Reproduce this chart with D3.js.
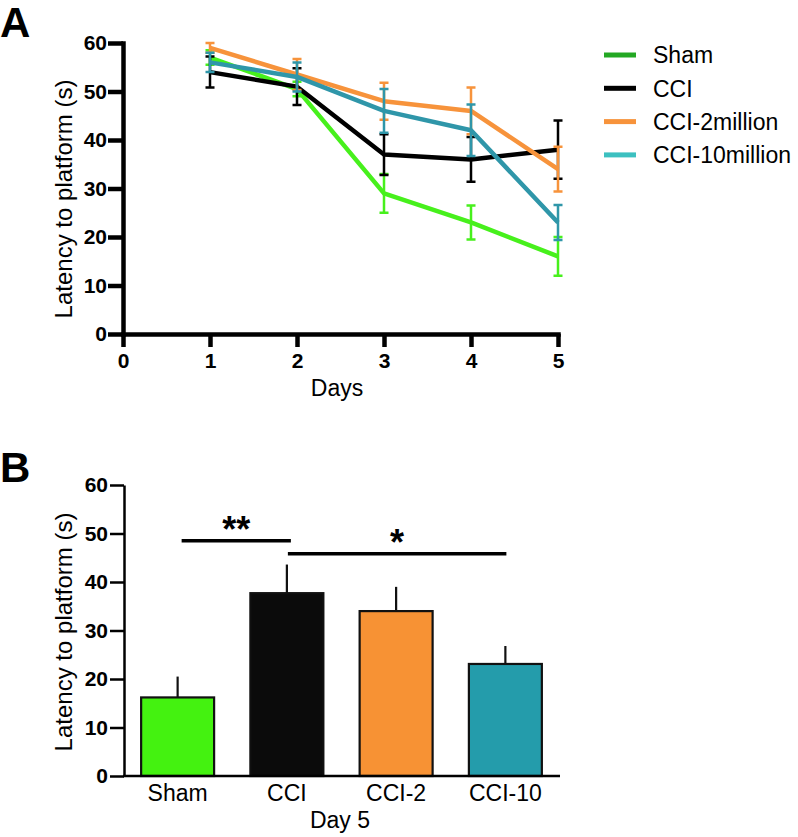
<!DOCTYPE html>
<html>
<head>
<meta charset="utf-8">
<script src="https://cdn.jsdelivr.net/npm/d3@7"></script>
<style>
  body { margin: 0; background: #fff; }
  svg { font-family: "Liberation Sans", Arial, sans-serif; }
</style>
</head>
<body>
<svg id="svg1" width="798" height="837"></svg>
<script>
// panel A data: latency per day, mean and SEM
var days = [1, 2, 3, 4, 5];
var groups = ['Sham', 'CCI', 'CCI-2million', 'CCI-10million'];
var shamMean = [57, 50.5, 29, 23, 16];
var shamErr = [1.5, 1.5, 4, 3.5, 4];
var cciMean = [54, 51, 37, 36, 38];
var cciErr = [3.2, 3.8, 4.2, 4.6, 6];
var cci2Mean = [59, 53.5, 48, 46, 34];
var cci2Err = [1, 3.2, 3.8, 4.8, 4.6];
var cci10Mean = [56, 53, 46, 42, 23];
var cci10Err = [2, 3, 4.5, 5.3, 3.6];
var xTicks = [0, 1, 2, 3, 4, 5];
var yTicks = [0, 10, 20, 30, 40, 50, 60];

// panel B data: day 5 only
var barNames = ['Sham', 'CCI', 'CCI-2', 'CCI-10'];
var barMean = [16.2, 37.7, 34, 23.1];
var barErr = [4.3, 5.9, 5, 3.7];
var sigFrom = ['Sham', 'CCI'];
var sigTo = ['CCI', 'CCI-10'];
var sigLevel = [48.5, 45.8];
var sigLabel = ['**', '*'];

var lineColors = ['#47f01c', '#000000', '#f7933b', '#2f96a9'];
var legendColors = ['#23a823', '#000000', '#f7933b', '#3cc0c0'];
var barColors = ['#44f210', '#0b0b0b', '#f79234', '#249cab'];

var svg = d3.select('#svg1');

//----- panel A -----
var xA = d3.scaleLinear().domain([0, 5]).range([123, 558]);
var yA = d3.scaleLinear().domain([0, 60]).range([334, 43]);

var gA = svg.append('g');

var axA = gA.append('g')
    .attr('transform', 'translate(0,334)')
    .call(d3.axisBottom(xA).tickValues(xTicks).tickFormat(d3.format('d')).tickSize(13).tickSizeOuter(0).tickPadding(6));
var ayA = gA.append('g')
    .attr('transform', 'translate(123,0)')
    .call(d3.axisLeft(yA).tickValues(yTicks).tickSize(15).tickSizeOuter(0).tickPadding(1));

[axA, ayA].forEach(function(a){
    a.select('.domain').attr('stroke-width', 4.5).attr('stroke-linecap', 'square');
    a.selectAll('.tick line').attr('stroke-width', 4.5);
    a.selectAll('.tick text').attr('font-size', 21).attr('font-weight', 'bold').attr('fill', '#000');
});

gA.append('text')
    .attr('transform', 'translate(72,199) rotate(-90)')
    .attr('text-anchor', 'middle')
    .attr('font-size', 24)
    .text('Latency to platform (s)');

gA.append('text')
    .attr('x', 337).attr('y', 396)
    .attr('text-anchor', 'middle')
    .attr('font-size', 23)
    .text('Days');

svg.append('text')
    .attr('x', 0).attr('y', 37)
    .attr('font-size', 42).attr('font-weight', 'bold')
    .text('A');

var seriesData = [
    {name: groups[0], mean: shamMean, err: shamErr},
    {name: groups[1], mean: cciMean, err: cciErr},
    {name: groups[2], mean: cci2Mean, err: cci2Err},
    {name: groups[3], mean: cci10Mean, err: cci10Err}
];

var line = d3.line()
    .x(function(d, i){ return xA(days[i]); })
    .y(function(d){ return yA(d); });

var series = gA.selectAll('.series')
    .data(seriesData)
    .enter()
    .append('g')
    .attr('class', 'series');

// error bars with caps, then the line on top
series.each(function(s, si){
    var g = d3.select(this);
    var pts = s.mean.map(function(m, i){ return {x: days[i], lo: m - s.err[i], hi: m + s.err[i]}; });
    g.selectAll('.eb')
        .data(pts)
        .enter()
        .append('path')
        .attr('d', function(d){
            var x = xA(d.x), y0 = yA(d.lo), y1 = yA(d.hi);
            return 'M' + x + ',' + y0 + 'V' + y1 +
                'M' + (x - 4.5) + ',' + y0 + 'H' + (x + 4.5) +
                'M' + (x - 4.5) + ',' + y1 + 'H' + (x + 4.5);
        })
        .attr('fill', 'none')
        .attr('stroke', lineColors[si])
        .attr('stroke-width', 2.5);
    g.append('path')
        .attr('d', line(s.mean))
        .attr('fill', 'none')
        .attr('stroke', lineColors[si])
        .attr('stroke-width', 4.5)
        .attr('stroke-linejoin', 'round');
});

// legend
var legend = gA.selectAll('.leg')
    .data(groups)
    .enter()
    .append('g')
    .attr('class', 'leg')
    .attr('transform', function(d, i){ return 'translate(604,' + (55 + i * 33.3) + ')'; });
legend.append('line')
    .attr('x1', 0).attr('x2', 32)
    .attr('stroke', function(d, i){ return legendColors[i]; })
    .attr('stroke-width', 5);
legend.append('text')
    .attr('x', 49).attr('dy', '0.36em')
    .attr('font-size', 23)
    .text(function(d){ return d; });

//----- panel B -----
var xB = d3.scaleBand().domain(barNames).range([123, 560]).paddingInner(0.332).paddingOuter(0.166);
var yB = d3.scaleLinear().domain([0, 60]).range([776, 485]);
var mid = function(d){ return xB(d) + xB.bandwidth() / 2; };

var gB = svg.append('g');

// error bars (upper only) behind bars
gB.selectAll('.berr')
    .data(barNames)
    .enter()
    .append('line')
    .attr('x1', mid)
    .attr('x2', mid)
    .attr('y1', function(d, i){ return yB(barMean[i]); })
    .attr('y2', function(d, i){ return yB(barMean[i] + barErr[i]); })
    .attr('stroke', '#111')
    .attr('stroke-width', 2.2);

gB.selectAll('.bar')
    .data(barNames)
    .enter()
    .append('rect')
    .attr('x', function(d){ return xB(d); })
    .attr('y', function(d, i){ return yB(barMean[i]); })
    .attr('width', xB.bandwidth())
    .attr('height', function(d, i){ return yB(0) - yB(barMean[i]); })
    .attr('fill', function(d, i){ return barColors[i]; })
    .attr('stroke', '#111')
    .attr('stroke-width', 2.2);

var axB = gB.append('g')
    .attr('transform', 'translate(0,776)')
    .call(d3.axisBottom(xB).tickSize(0).tickSizeOuter(0).tickPadding(9));
axB.select('.domain').attr('d', 'M123,0H560');
var ayB = gB.append('g')
    .attr('transform', 'translate(124,0)')
    .call(d3.axisLeft(yB).tickValues(yTicks).tickSize(14).tickSizeOuter(0).tickPadding(2));

axB.select('.domain').attr('stroke-width', 2.5);
axB.selectAll('.tick text').attr('font-size', 23).attr('fill', '#000');
ayB.select('.domain').attr('stroke-width', 2.5);
ayB.selectAll('.tick line').attr('stroke-width', 2.5);
ayB.selectAll('.tick text').attr('font-size', 21).attr('font-weight', 'bold').attr('fill', '#000');

gB.append('text')
    .attr('transform', 'translate(72,632) rotate(-90)')
    .attr('text-anchor', 'middle')
    .attr('font-size', 24)
    .text('Latency to platform (s)');

gB.append('text')
    .attr('x', 340).attr('y', 828)
    .attr('text-anchor', 'middle')
    .attr('font-size', 23)
    .text('Day 5');

svg.append('text')
    .attr('x', 0).attr('y', 482)
    .attr('font-size', 42).attr('font-weight', 'bold')
    .text('B');

// significance brackets
sigLabel.forEach(function(lab, i){
    var x0 = mid(sigFrom[i]) + (i === 0 ? 4 : 1);
    var x1 = mid(sigTo[i]) + (i === 0 ? 4 : 1);
    var y = yB(sigLevel[i]);
    gB.append('line')
        .attr('x1', x0).attr('x2', x1)
        .attr('y1', y).attr('y2', y)
        .attr('stroke', '#000')
        .attr('stroke-width', 3.5);
    gB.append('text')
        .attr('x', (x0 + x1) / 2)
        .attr('y', y + 1)
        .attr('text-anchor', 'middle')
        .attr('font-size', 36)
        .attr('font-weight', 'bold')
        .text(lab);
});
</script>
</body>
</html>
